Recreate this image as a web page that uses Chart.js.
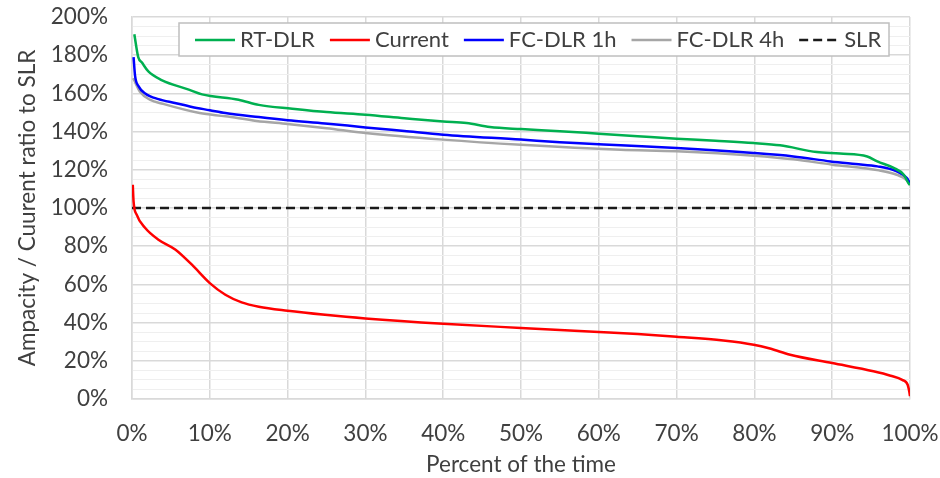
<!DOCTYPE html>
<html>
<head>
<meta charset="utf-8">
<script src="https://cdn.jsdelivr.net/npm/chart.js@4"></script>
<style>
html,body{margin:0;padding:0;background:#fff;}
#wrap{width:940px;height:478px;}
</style>
</head>
<body>
<div id="wrap"><canvas id="c" width="940" height="478"></canvas></div>
<script>
// ---- data ----
const rtX = [0.3, 0.8, 1.3, 2.1, 3.8, 7.3, 9, 13.7, 16.3, 20.6, 25, 30, 35, 40, 43, 46, 50, 55, 60, 65, 70, 75, 79.9, 83.3, 88, 91, 94.5, 95.8, 97.9, 99.2, 99.8, 100];
const rtY = [191, 179, 176, 171.5, 167, 162, 159.5, 156.7, 154, 152, 150.2, 148.8, 147, 145.3, 144.5, 142.4, 141.3, 140.2, 138.9, 137.6, 136.3, 135.2, 134, 132.8, 129.3, 128.5, 127, 124.4, 121, 117.4, 113, 112];

const curX = [0.1, 0.2, 0.6, 1.7, 3.4, 5.6, 7.7, 10, 12, 14.1, 16.3, 20, 24.8, 30, 40, 50, 60, 65, 70, 76, 79.9, 82, 84.6, 90, 95.3, 97.5, 99, 99.7, 99.9, 100];
const curY = [112.2, 103.5, 96.5, 89.5, 83.4, 78.2, 70.3, 60.7, 54.6, 50.6, 48.3, 46.2, 44.1, 42.2, 39.4, 37.2, 35.1, 34.0, 32.6, 30.6, 28.4, 26.4, 23.2, 18.8, 14.5, 12.2, 10, 7.5, 4, 1.5];

const fc1X = [0.2, 0.4, 0.85, 1.7, 3.4, 5.5, 7.7, 10, 12, 16.3, 20, 24.8, 30, 35, 40, 50, 55, 62.8, 70, 79.9, 85, 89.8, 93, 95.8, 98.3, 99.6, 100];
const fc1Y = [179, 169, 163.7, 160, 157, 155, 152.9, 151.2, 149.7, 147.6, 146, 144.3, 142.2, 140.3, 138.4, 135.8, 134.4, 132.8, 131.4, 128.8, 127, 124.4, 123, 121.8, 119.2, 115.7, 113];

const fc4X = [0.15, 0.5, 1, 2.3, 4, 8.7, 12, 16, 20, 25, 30, 40, 50, 62.8, 70, 80, 85, 90, 96, 98.3, 99.6, 100];
const fc4Y = [168, 165, 161, 156.7, 154.5, 149.7, 148, 145.6, 144, 141.8, 139.3, 135.8, 133.1, 130.5, 129.7, 127.4, 125.5, 122.7, 119.7, 117.4, 114.5, 112];

const slrX = [0, 100];
const slrY = [100, 100];

const seriesNames = ['RT-DLR', 'Current', 'FC-DLR 1h', 'FC-DLR 4h', 'SLR'];
const xTicks = [0, 10, 20, 30, 40, 50, 60, 70, 80, 90, 100];
const yTicks = [0, 20, 40, 60, 80, 100, 120, 140, 160, 180, 200];

// ---- build ----
const pts = (xs, ys) => xs.map((x, i) => ({x: x, y: ys[i]}));
const FONT = 'Lato, "Open Sans", sans-serif';
const TXT = '#404040';
const FS = 22.5;

const colors = ['#00B050', '#FF0000', '#0000FF', '#A6A6A6', '#1a1a1a'];
const dashes = [[], [], [], [], [9, 5]];

const datasets = [
  pts(rtX, rtY), pts(curX, curY), pts(fc1X, fc1Y), pts(fc4X, fc4Y), pts(slrX, slrY)
].map((d, i) => ({
  label: seriesNames[i],
  data: d,
  borderColor: colors[i],
  backgroundColor: colors[i],
  borderWidth: i === 4 ? 2.4 : 2.5,
  borderDash: dashes[i],
  pointRadius: 0,
  fill: false,
  cubicInterpolationMode: 'monotone'
}));

const boxLegend = {
  id: 'boxLegend',
  afterDraw(chart) {
    const ctx = chart.ctx;
    ctx.save();
    ctx.font = '22px ' + FONT;
    const sample = 40, gapT = 5, gapI = 15;
    let x = 195;
    const yMid = 40;
    ctx.fillStyle = '#fff';
    ctx.fillRect(179, 23, 710, 33);
    ctx.strokeStyle = '#bfbfbf';
    ctx.lineWidth = 1.5;
    ctx.strokeRect(179, 23, 710, 33);
    chart.data.datasets.forEach((ds, i) => {
      ctx.strokeStyle = ds.borderColor;
      ctx.lineWidth = ds.borderWidth;
      ctx.setLineDash(ds.borderDash || []);
      ctx.beginPath();
      ctx.moveTo(x, yMid);
      ctx.lineTo(x + sample, yMid);
      ctx.stroke();
      ctx.setLineDash([]);
      x += sample + gapT;
      ctx.fillStyle = TXT;
      ctx.textBaseline = 'middle';
      ctx.textAlign = 'left';
      ctx.fillText(ds.label, x, yMid);
      x += ctx.measureText(ds.label).width + gapI;
    });
    ctx.restore();
  }
};

new Chart(document.getElementById('c'), {
  type: 'line',
  data: {datasets: datasets},
  options: {
    responsive: false,
    animation: false,
    layout: {padding: {top: 17, right: 30, left: 0, bottom: 0}},
    plugins: {legend: {display: false}, tooltip: {enabled: false}},
    scales: {
      x: {
        type: 'linear', min: 0, max: 100,
        afterBuildTicks: s => { s.ticks = xTicks.map(v => ({value: v})); },
        ticks: {callback: v => v + '%', font: {family: FONT, size: FS}, color: TXT, padding: 21, maxRotation: 0, autoSkip: false},
        grid: {color: '#d9d9d9', lineWidth: 1.5, drawTicks: false},
        border: {color: '#d9d9d9', width: 1.5},
        title: {display: true, text: 'Percent of the time', font: {family: FONT, size: FS}, color: TXT, padding: {top: 0, bottom: 0}},
        afterFit: s => { s.height = 79; s.paddingLeft = 0; s.paddingRight = 0; }
      },
      y: {
        type: 'linear', min: 0, max: 200,
        ticks: {stepSize: 5, autoSkip: false, callback: v => (yTicks.includes(v) ? v + '%' : ''), font: {family: FONT, size: FS}, color: TXT, padding: 24},
        grid: {color: c => (c.tick && yTicks.includes(c.tick.value) ? '#d9d9d9' : '#efefef'), lineWidth: c => (c.tick && yTicks.includes(c.tick.value) ? 1.5 : 1), drawTicks: false},
        border: {color: '#d9d9d9', width: 1.5},
        title: {display: true, text: 'Ampacity / Cuurent ratio to SLR', font: {family: FONT, size: FS}, color: TXT, padding: {top: 14, bottom: 0}},
        afterFit: s => { s.width = 132; s.paddingTop = 0; s.paddingBottom = 0; }
      }
    }
  },
  plugins: [boxLegend]
});
</script>
</body>
</html>
